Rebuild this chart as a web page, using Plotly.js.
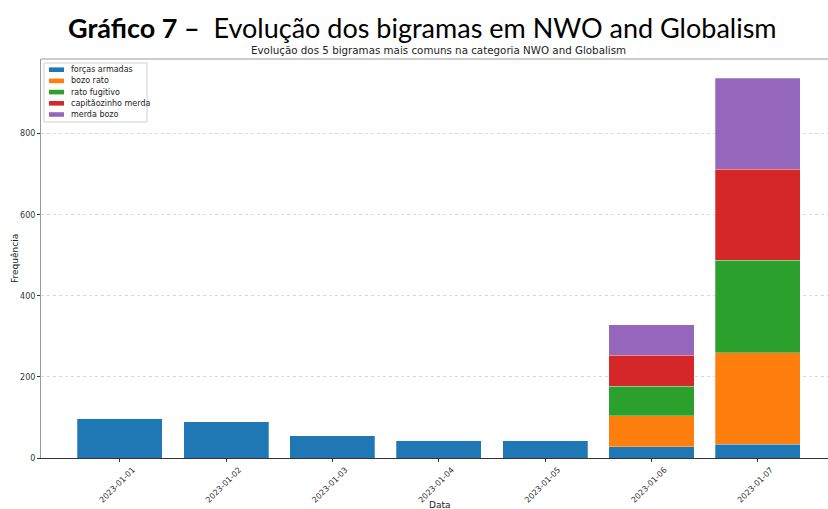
<!DOCTYPE html>
<html><head><meta charset="utf-8">
<script src="https://cdn.plot.ly/plotly-3.0.1.min.js"></script>
<style>html,body{margin:0;padding:0;background:#fff}#c{width:828px;height:509px}</style>
</head><body><div id="c"></div>
<script>
const dates = ["2023-01-01","2023-01-02","2023-01-03","2023-01-04","2023-01-05","2023-01-06","2023-01-07"];
const seriesNames = ["forças armadas","bozo rato","rato fugitivo","capitãozinho merda","merda bozo"];
const forcasArmadas = [98, 89, 55, 44, 43, 28, 34];
const bozoRato = [0, 0, 0, 0, 0, 76, 226];
const ratoFugitivo = [0, 0, 0, 0, 0, 73, 228];
const capitaozinhoMerda = [0, 0, 0, 0, 0, 76, 224];
const merdaBozo = [0, 0, 0, 0, 0, 76, 225];
const colors = ["#1f77b4","#ff7f0e","#2ca02c","#d62728","#9467bd"];
const values = [forcasArmadas, bozoRato, ratoFugitivo, capitaozinhoMerda, merdaBozo];
const xs = dates.map((d,i)=>i);
const traces = values.map((v,k)=>({
  type:'bar', x: xs, y: v, name: seriesNames[k],
  marker:{color: colors[k], line:{width:0.6, color:'rgba(255,255,255,0.45)'}},
  hoverinfo:'none'
}));

// custom legend (pixel layout converted to paper coords)
const W=828, H=509, L=41, R=0, T=59, B=51;
const pw=W-L-R, ph=H-T-B;
const px=x=>(x-L)/pw, py=y=>1-(y-T)/ph;
const shapes=[{type:'line', xref:'paper', yref:'paper', x0:0, x1:1, y0:1, y1:1, line:{color:'#999', width:1}},
  {type:'rect', xref:'paper', yref:'paper', x0:px(44), x1:px(147), y0:py(63), y1:py(122),
   fillcolor:'rgba(255,255,255,0.8)', line:{color:'#d0d0d0', width:1}}];
const annotations=[
  {xref:'paper', yref:'paper', x:px(422), y:1, yshift:32, xanchor:'center', yanchor:'middle', showarrow:false,
   text:'<b>Gráfico 7 –</b>  Evolução dos bigramas em NWO and Globalism',
   font:{family:'Lato', size:27, color:'#000'}},
  {xref:'paper', yref:'paper', x:px(439), y:1, yshift:9, xanchor:'center', yanchor:'middle', showarrow:false,
   text:'Evolução dos 5 bigramas mais comuns na categoria NWO and Globalism',
   font:{family:'DejaVu Sans', size:10.3, color:'#222'}},
  {xref:'paper', yref:'paper', x:px(440), y:py(505), xanchor:'center', yanchor:'middle', showarrow:false,
   text:'Data', font:{family:'DejaVu Sans', size:9, color:'#222'}},
  {xref:'paper', yref:'paper', x:px(15), y:py(259), xanchor:'center', yanchor:'middle', showarrow:false,
   textangle:-90, text:'Frequência', font:{family:'DejaVu Sans', size:9, color:'#222'}}
];
seriesNames.forEach((n,k)=>{
  const cy=69.7+k*11.2;
  shapes.push({type:'rect', xref:'paper', yref:'paper', x0:px(49), x1:px(64), y0:py(cy-2.3), y1:py(cy+2.3),
    fillcolor:colors[k], line:{width:0}});
  annotations.push({xref:'paper', yref:'paper', x:px(69), y:py(cy), xanchor:'left', yanchor:'middle',
    showarrow:false, text:n, font:{family:'DejaVu Sans', size:8, color:'#222'}});
});

const layout = {
  width:W, height:H,
  margin:{l:L, r:R, t:T, b:B},
  paper_bgcolor:'#fff', plot_bgcolor:'#fff',
  barmode:'stack', bargap:0.2,
  showlegend:false,
  xaxis:{range:[-0.74, 6.66], tickmode:'array', tickvals: xs, ticktext: dates,
    tickangle:-45, tickfont:{family:'DejaVu Sans', size:8, color:'#333'}, ticklabelshift:13,
    ticks:'outside', ticklen:3, tickcolor:'#333', showgrid:false, zeroline:false,
    showline:true, linecolor:'#333', linewidth:1, mirror:false},
  yaxis:{range:[0, 984], tickvals:[0,200,400,600,800], ticktext:['0','200','400','600','800'],
    tickfont:{family:'DejaVu Sans', size:8, color:'#333'}, ticks:'outside', ticklen:3, tickcolor:'#333',
    showgrid:true, gridcolor:'#cfcfcf', griddash:'dot', gridwidth:0.8, zeroline:false,
    showline:true, linecolor:'#999', linewidth:1},
  shapes: shapes,
  annotations: annotations
};
Plotly.newPlot('c', traces, layout, {displayModeBar:false, staticPlot:true});
</script></body></html>
